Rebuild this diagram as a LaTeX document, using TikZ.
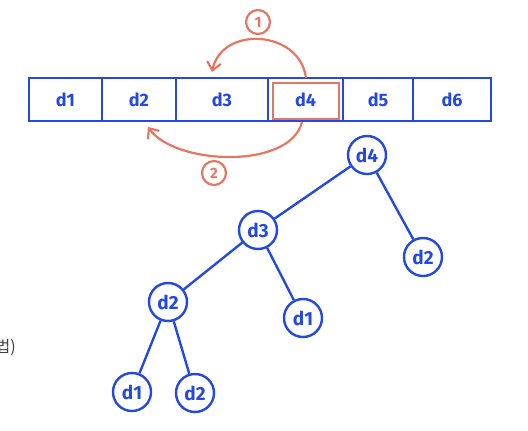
\documentclass[tikz,border=0pt]{standalone}
\usepackage{fontspec}
\setmainfont{Fira Sans}
\newfontfamily\krfont{Noto Sans CJK KR}
\usetikzlibrary{arrows.meta}
\definecolor{penblue}{RGB}{36,72,226}
\definecolor{penred}{RGB}{228,118,98}
\begin{document}
\begin{tikzpicture}[x=1pt,y=-1pt,
  cell/.style={draw=penblue,line width=2pt,minimum height=43pt,inner sep=0pt,font=\bfseries\fontsize{18}{18}\selectfont,text=penblue},
  tnode/.style={draw=penblue,circle,line width=2.4pt,minimum size=38pt,inner sep=0pt,font=\bfseries\fontsize{19}{19}\selectfont,text=penblue},
  tedge/.style={draw=penblue,line width=2.4pt},
  numc/.style={draw=penred,circle,line width=2.2pt,minimum size=24pt,inner sep=0pt,font=\bfseries\fontsize{15}{15}\selectfont,text=penred},
  redarr/.style={draw=penred,line width=2.2pt,-{Straight Barb[length=8pt,width=14pt]}}]
\useasboundingbox (0,0) rectangle (528,431);
\clip (0,0) rectangle (528,431);
% array cells
\node[cell,minimum width=73pt] (c1) at (65.5,99.5) {d1};
\node[cell,minimum width=74pt] (c2) at (139,99.5) {d2};
\node[cell,minimum width=92pt] (c3) at (222,99.5) {d3};
\node[cell,minimum width=75pt] (c4) at (305.5,99.5) {d4};
\node[cell,minimum width=70pt] (c5) at (378,99.5) {d5};
\node[cell,minimum width=78pt] (c6) at (452,99.5) {d6};
\node[draw=penred,line width=2pt,minimum width=66pt,minimum height=36pt,inner sep=0pt] (hl) at (306,101) {};
% red arrows
\node[numc] (n1) at (258,22) {1};
\node[numc] (n2) at (214,173) {2};
\coordinate (t1) at (212,72);
\coordinate (t2) at (148,127);
\draw[redarr] (hl.north) ++(0,-4) .. controls (300,30) and (222,25) .. (t1);
\draw[redarr] (hl.south) ++(-4,2) .. controls (290,170) and (175,165) .. (t2);
% tree
\node[tnode] (a) at (367,155) {d4};
\node[tnode] (b) at (258,230) {d3};
\node[tnode] (c) at (423,257) {d2};
\node[tnode] (d) at (168,302) {d2};
\node[tnode] (e) at (303,318) {d1};
\node[tnode] (f) at (132,392) {d1};
\node[tnode] (g) at (195,393) {d2};
\draw[tedge] (a) -- (b);
\draw[tedge] (a) -- (c);
\draw[tedge] (b) -- (d);
\draw[tedge] (b) -- (e);
\draw[tedge] (d) -- (f);
\draw[tedge] (d) -- (g);
% cut-off text at left edge
\node[anchor=east,inner sep=0pt,font=\krfont\fontsize{16}{16}\selectfont,text=black!75] (kr) at (16,347) {법)};
\end{tikzpicture}
\end{document}
